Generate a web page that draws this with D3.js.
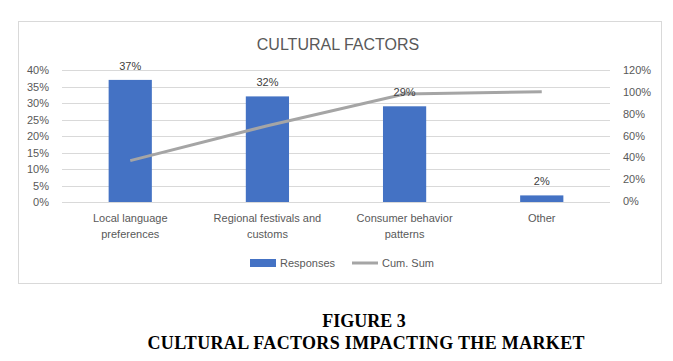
<!DOCTYPE html>
<html>
<head>
<meta charset="utf-8">
<script src="https://cdn.jsdelivr.net/npm/d3@7"></script>
<style>
  body { margin: 0; background: #fff; }
  svg { display: block; }
  .tick text { fill: #595959; }
</style>
</head>
<body>
<svg id="chart" width="673" height="361"></svg>
<script>
// Chart data
const categories = ["Local language preferences", "Regional festivals and customs", "Consumer behavior patterns", "Other"];
const categoryLines = [["Local language", "preferences"], ["Regional festivals and", "customs"], ["Consumer behavior", "patterns"], ["Other"]];
const responses = [0.37, 0.32, 0.29, 0.02];
const cumSum = [0.37, 0.69, 0.98, 1.00];
const leftTicks = [0, 0.05, 0.10, 0.15, 0.20, 0.25, 0.30, 0.35, 0.40];
const rightTicks = [0, 0.2, 0.4, 0.6, 0.8, 1.0, 1.2];

const svg = d3.select("#chart");
const font = "'Liberation Sans Narrow', 'Liberation Sans', sans-serif";

// Chart frame
svg.append("rect")
  .attr("x", 18.5).attr("y", 21.5)
  .attr("width", 643).attr("height", 262)
  .attr("fill", "#fff").attr("stroke", "#d9d9d9");

svg.append("text")
  .attr("x", 338).attr("y", 50)
  .attr("text-anchor", "middle")
  .attr("font-family", font)
  .attr("font-size", 16)
  .attr("fill", "#595959")
  .text("CULTURAL FACTORS");

const plot = { left: 62, right: 610, top: 70, bottom: 202 };

const x = d3.scaleBand()
  .domain(categories)
  .range([plot.left, plot.right])
  .paddingInner(0.685)
  .paddingOuter(0.34);

const yLeft = d3.scaleLinear().domain([0, 0.4]).range([plot.bottom, plot.top]);
const yRight = d3.scaleLinear().domain([0, 1.2]).range([plot.bottom - 1, plot.top]);

// Gridlines
svg.append("g")
  .selectAll("line")
  .data(leftTicks)
  .join("line")
  .attr("x1", plot.left).attr("x2", plot.right)
  .attr("y1", d => Math.round(yLeft(d)) + 0.5)
  .attr("y2", d => Math.round(yLeft(d)) + 0.5)
  .attr("stroke", "#d9d9d9");

// Left axis
const leftAxis = svg.append("g")
  .attr("transform", `translate(49,0)`)
  .call(d3.axisLeft(yLeft).tickValues(leftTicks).tickFormat(d3.format(".0%")).tickSize(0).tickPadding(0));
leftAxis.select(".domain").remove();
leftAxis.selectAll("text").attr("font-family", font).attr("font-size", 11);

// Right axis
const rightAxis = svg.append("g")
  .attr("transform", `translate(623,0)`)
  .call(d3.axisRight(yRight).tickValues(rightTicks).tickFormat(d3.format(".0%")).tickSize(0).tickPadding(0));
rightAxis.select(".domain").remove();
rightAxis.selectAll("text").attr("font-family", font).attr("font-size", 11);

// Bars
svg.append("g")
  .selectAll("rect")
  .data(responses)
  .join("rect")
  .attr("x", (d, i) => x(categories[i]))
  .attr("y", d => yLeft(d))
  .attr("width", x.bandwidth())
  .attr("height", d => plot.bottom - yLeft(d))
  .attr("fill", "#4472c4");

// Cumulative line
const line = d3.line()
  .x((d, i) => x(categories[i]) + x.bandwidth() / 2)
  .y(d => yRight(d));

svg.append("path")
  .datum(cumSum)
  .attr("d", line)
  .attr("fill", "none")
  .attr("stroke", "#a5a5a5")
  .attr("stroke-width", 3);

// Data labels
svg.append("g")
  .selectAll("text")
  .data(responses)
  .join("text")
  .attr("x", (d, i) => x(categories[i]) + x.bandwidth() / 2)
  .attr("y", d => yLeft(d) - 10)
  .attr("text-anchor", "middle")
  .attr("font-family", font)
  .attr("font-size", 11)
  .attr("fill", "#404040")
  .text(d => d3.format(".0%")(d));

// Category labels
const cat = svg.append("g")
  .selectAll("text")
  .data(categoryLines)
  .join("text")
  .attr("x", (d, i) => x(categories[i]) + x.bandwidth() / 2)
  .attr("y", 222)
  .attr("text-anchor", "middle")
  .attr("font-family", font)
  .attr("font-size", 11)
  .attr("fill", "#595959");
cat.selectAll("tspan")
  .data(d => d)
  .join("tspan")
  .attr("x", function() { return this.parentNode.getAttribute("x"); })
  .attr("dy", (d, i) => i === 0 ? 0 : 16)
  .text(d => d);

// Legend
const legend = svg.append("g").attr("font-family", font).attr("font-size", 11).attr("fill", "#595959");
legend.append("rect").attr("x", 250).attr("y", 259).attr("width", 26).attr("height", 8).attr("fill", "#4472c4");
legend.append("text").attr("x", 280).attr("y", 267).text("Responses");
legend.append("line").attr("x1", 352).attr("x2", 378).attr("y1", 263).attr("y2", 263)
  .attr("stroke", "#a5a5a5").attr("stroke-width", 3);
legend.append("text").attr("x", 382).attr("y", 267).text("Cum. Sum");

// Figure caption
const caption = svg.append("g")
  .attr("font-family", "'Liberation Serif', 'Times New Roman', serif")
  .attr("font-weight", "bold")
  .attr("font-size", 18)
  .attr("text-anchor", "middle")
  .attr("fill", "#000");
caption.append("text").attr("x", 364).attr("y", 327).text("FIGURE 3");
caption.append("text").attr("x", 366).attr("y", 349).attr("textLength", 437).text("CULTURAL FACTORS IMPACTING THE MARKET");
</script>
</body>
</html>
